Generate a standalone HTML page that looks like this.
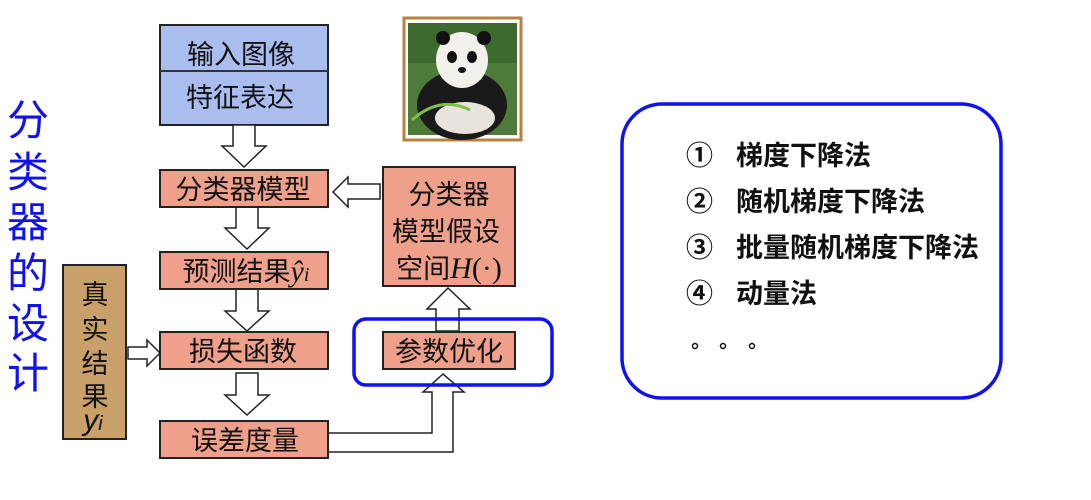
<!DOCTYPE html>
<html><head><meta charset="utf-8"><style>
body{margin:0;background:#fff;width:1091px;height:495px;overflow:hidden}
text{font-family:"Liberation Sans","Noto Sans CJK SC",sans-serif}
</style></head><body>
<svg width="1091" height="495" viewBox="0 0 1091 495" xmlns="http://www.w3.org/2000/svg">
<g fill="#1010f0" font-size="42" text-anchor="middle">
<text x="28" y="135" font-family="Noto Sans CJK SC,sans-serif">分</text>
<text x="28" y="187" font-family="Noto Sans CJK SC,sans-serif">类</text>
<text x="28" y="237" font-family="Noto Sans CJK SC,sans-serif">器</text>
<text x="28" y="288" font-family="Noto Sans CJK SC,sans-serif">的</text>
<text x="28" y="338" font-family="Noto Sans CJK SC,sans-serif">设</text>
<text x="28" y="388" font-family="Noto Sans CJK SC,sans-serif">计</text>
</g>
<rect x="160" y="25" width="168" height="100" fill="#a9bdee" stroke="#222" stroke-width="2"/>
<line x1="160" y1="71" x2="328" y2="71" stroke="#333" stroke-width="2"/>
<g font-size="27" fill="#111" text-anchor="middle" font-family="Noto Sans CJK SC,sans-serif">
<text x="241" y="64">输入图像</text>
<text x="240" y="107">特征表达</text>
</g>
<g fill="#fff" stroke="#222" stroke-width="1.5">
<polygon points="233,125 255,125 255,146 266,146 244,167 222,146 233,146"/>
<polygon points="236,207 258,207 258,228 269,228 247,249 225,228 236,228"/>
<polygon points="236,289 258,289 258,311 269,311 247,331 225,311 236,311"/>
<polygon points="236,373 258,373 258,395 269,395 247,415 225,395 236,395"/>
<polygon points="128,347 147,347 147,340 160,353 147,366 147,359 128,359"/>
<polygon points="380,184 348,184 348,177 333,192 348,207 348,199 380,199"/>
<polygon points="436,331 436,309 427,309 448,288 470,309 459,309 459,331"/>
<polygon points="328,433 432,433 432,392 423,392 443,374 464,392 453,392 453,452 328,452"/>
</g>
<g fill="#efa08a" stroke="#222" stroke-width="2">
<rect x="160" y="170" width="168" height="37"/>
<rect x="160" y="252" width="168" height="37"/>
<rect x="160" y="332" width="168" height="37"/>
<rect x="160" y="421" width="168" height="37"/>
<rect x="383" y="167" width="132" height="119"/>
<rect x="383" y="332" width="132" height="37"/>
</g>
<g font-size="27" fill="#111" text-anchor="middle" font-family="Noto Sans CJK SC,sans-serif">
<text x="243" y="199">分类器模型</text>
<text x="246" y="281">预测结果<tspan font-family="Liberation Serif,serif" font-style="italic" font-size="30">ŷ</tspan><tspan font-family="Liberation Serif,serif" font-style="italic" font-size="20">i</tspan></text>
<text x="243" y="361">损失函数</text>
<text x="245" y="450">误差度量</text>
<text x="449" y="204">分类器</text>
<text x="446" y="241">模型假设</text>
<text x="449" y="278">空间<tspan font-family="Liberation Serif,serif" font-style="italic" font-size="30">H</tspan><tspan font-family="Liberation Serif,serif" font-size="30">(·)</tspan></text>
<text x="449" y="361">参数优化</text>
</g>
<rect x="63" y="265" width="63" height="174" fill="#c9a06a" stroke="#222" stroke-width="2"/>
<g font-size="27" fill="#111" text-anchor="middle" font-family="Noto Sans CJK SC,sans-serif">
<text x="95" y="304">真</text>
<text x="95" y="339">实</text>
<text x="95" y="373">结</text>
<text x="95" y="406">果</text>
<text x="93" y="430" font-family="Liberation Serif,serif" font-style="italic" font-size="30">y<tspan font-size="20">i</tspan></text>
</g>
<rect x="354" y="319" width="198" height="66" rx="12" fill="none" stroke="#1010f0" stroke-width="3.5"/>
<rect x="404" y="18" width="117" height="122" fill="#fff" stroke="#b9803f" stroke-width="3"/>
<rect x="408" y="23" width="109" height="112" fill="#4e7a3a"/>
<rect x="408" y="23" width="109" height="40" fill="#3d6a2e"/>
<ellipse cx="462" cy="105" rx="45" ry="35" fill="#1a1a1a"/>
<ellipse cx="465" cy="118" rx="30" ry="16" fill="#e8e4dc"/>
<ellipse cx="462" cy="60" rx="26" ry="28" fill="#f2f0ea"/>
<circle cx="443" cy="38" r="7" fill="#111"/>
<circle cx="484" cy="38" r="7" fill="#111"/>
<ellipse cx="452" cy="57" rx="5" ry="6" fill="#111"/>
<ellipse cx="472" cy="57" rx="5" ry="6" fill="#111"/>
<ellipse cx="462" cy="70" rx="4" ry="3" fill="#111"/>
<path d="M412 120 Q440 95 470 110" stroke="#7fbf4a" stroke-width="3" fill="none"/>
<rect x="622" y="104" width="379" height="294" rx="40" fill="#fff" stroke="#1010f0" stroke-width="3.5"/>
<g font-size="27" fill="#111" font-family="Noto Sans CJK SC,sans-serif" font-weight="bold">
<text x="686" y="165">①</text><text x="736" y="165">梯度下降法</text>
<text x="686" y="211">②</text><text x="736" y="211">随机梯度下降法</text>
<text x="686" y="257">③</text><text x="736" y="257">批量随机梯度下降法</text>
<text x="686" y="303">④</text><text x="736" y="303">动量法</text>
</g>
<g fill="none" stroke="#111" stroke-width="1.5">
<circle cx="695" cy="346" r="2.5"/><circle cx="723" cy="346" r="2.5"/><circle cx="752" cy="346" r="2.5"/>
</g>
</svg>
</body></html>
